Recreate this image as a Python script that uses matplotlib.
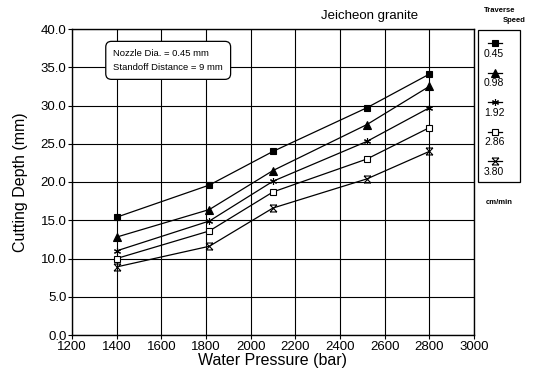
import matplotlib
matplotlib.use("Agg")
import matplotlib.pyplot as plt
from matplotlib.path import Path
from matplotlib.lines import Line2D
from matplotlib.patches import Rectangle

plt.rcParams['font.family'] = ['Liberation Sans', 'DejaVu Sans']

# datos
presion = [1400, 1815, 2100, 2520, 2800]
velocidades = ['0.45', '0.98', '1.92', '2.86', '3.80']
prof_045 = [15.4, 19.6, 24.0, 29.7, 34.1]
prof_098 = [12.8, 16.4, 21.5, 27.5, 32.5]
prof_192 = [11.0, 14.9, 20.1, 25.3, 29.7]
prof_286 = [10.0, 13.6, 18.7, 23.0, 27.1]
prof_380 = [8.9, 11.6, 16.6, 20.4, 24.0]
series = [prof_045, prof_098, prof_192, prof_286, prof_380]

# marcador tipo reloj de arena para 3.80 (X con barras arriba y abajo)
M, L = Path.MOVETO, Path.LINETO
reloj = Path([(-1, 1), (1, 1), (-1, 1), (1, -1), (-1, -1), (1, -1),
              (1, 1), (-1, -1)],
             [M, L, M, L, M, L, M, L])
marcadores = [
    dict(marker='s', markersize=5, markerfacecolor='black'),
    dict(marker='^', markersize=6, markerfacecolor='black'),
    dict(marker=(6, 2, 0), markersize=5),
    dict(marker='s', markersize=5, markerfacecolor='white'),
    dict(marker=reloj, markersize=5, markerfacecolor='none'),
]

W, H = 536.0, 373.0
fig = plt.figure(figsize=(5.36, 3.73), dpi=100)
ax = fig.add_axes([72 / W, 1 - 335 / H, 402 / W, 306 / H])

for y, m in zip(series, marcadores):
    ax.plot(presion, y, color='black', linewidth=0.9,
            markeredgecolor='black', markeredgewidth=0.8, **m)

ax.set_xlim(1200, 3000)
ax.set_ylim(0, 40)
ax.set_xticks(range(1200, 3001, 200))
ax.set_yticks([i * 5.0 for i in range(9)])
ax.set_yticklabels(['%.1f' % (i * 5.0) for i in range(9)])
ax.grid(True, color='black', linewidth=0.8)
ax.tick_params(labelsize=9.5, length=3, width=0.8, color='black', pad=1)
for s in ax.spines.values():
    s.set_linewidth(1.0)
ax.set_xlabel('Water Pressure (bar)', fontsize=11.5, labelpad=0)
ax.set_ylabel('Cutting Depth (mm)', fontsize=11.5, labelpad=9)

fig.text(370 / W, 1 - 16 / H, 'Jeicheon granite', fontsize=9.5,
         ha='center', va='center')

ax.text(1385, 35.9, 'Nozzle Dia. = 0.45 mm\nStandoff Distance = 9 mm',
        fontsize=6.8, ha='left', va='center', linespacing=1.7,
        bbox=dict(boxstyle='round,pad=0.8,rounding_size=0.6',
                  facecolor='white', edgecolor='black', linewidth=0.9))

# leyenda hecha a mano: simbolo arriba, valor debajo
fig.patches.append(Rectangle((478 / W, 1 - 182 / H), 42 / W, 152 / H,
                             transform=fig.transFigure, fill=False,
                             edgecolor='black', linewidth=0.9))
for i, (m, v) in enumerate(zip(marcadores, velocidades)):
    ym = 1 - (43 + 29.5 * i) / H
    yt = 1 - (54 + 29.5 * i) / H
    fig.lines.append(Line2D([488 / W, 495 / W, 502 / W], [ym, ym, ym],
                            transform=fig.transFigure, color='black',
                            linewidth=0.9, markeredgecolor='black',
                            markeredgewidth=0.8, markevery=[1], **m))
    fig.text(484 / W, yt, v, fontsize=7.5, ha='left', va='center')

fig.text(500 / W, 1 - 11 / H, 'Traverse', fontsize=5.5, ha='center',
         va='center', fontweight='bold')
fig.text(514 / W, 1 - 21 / H, 'Speed', fontsize=5.5, ha='center',
         va='center', fontweight='bold')
fig.text(499 / W, 1 - 202 / H, 'cm/min', fontsize=5.5, ha='center',
         va='center', fontweight='bold')

fig.savefig('out.png', dpi=100)
